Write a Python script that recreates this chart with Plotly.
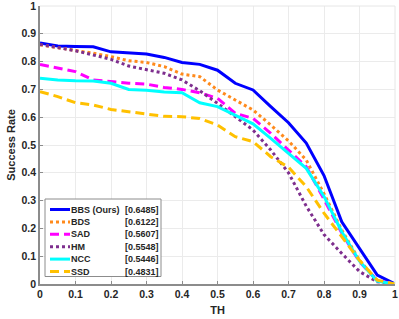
import plotly.graph_objects as go

th = [0, 0.05, 0.1, 0.15, 0.2, 0.25, 0.3, 0.35, 0.4, 0.45, 0.5,
      0.55, 0.6, 0.65, 0.7, 0.75, 0.8, 0.85, 0.9, 0.95, 1.0]

bbs = [0.867, 0.856, 0.854, 0.853, 0.835, 0.831, 0.827, 0.815, 0.797, 0.790, 0.769,
       0.722, 0.698, 0.638, 0.580, 0.507, 0.390, 0.224, 0.130, 0.032, 0.0]
bds = [0.860, 0.850, 0.842, 0.830, 0.818, 0.803, 0.797, 0.782, 0.755, 0.746, 0.698,
       0.662, 0.626, 0.572, 0.515, 0.446, 0.325, 0.194, 0.085, 0.012, 0.0]
sad = [0.790, 0.776, 0.764, 0.734, 0.728, 0.722, 0.719, 0.707, 0.700, 0.688, 0.668,
       0.614, 0.596, 0.542, 0.482, 0.422, 0.305, 0.183, 0.080, 0.012, 0.0]
hm = [0.862, 0.850, 0.839, 0.824, 0.808, 0.784, 0.770, 0.758, 0.734, 0.695, 0.650,
      0.602, 0.554, 0.482, 0.400, 0.280, 0.178, 0.110, 0.045, 0.008, 0.0]
ncc = [0.740, 0.734, 0.731, 0.730, 0.722, 0.700, 0.697, 0.691, 0.688, 0.652, 0.638,
       0.608, 0.576, 0.524, 0.470, 0.416, 0.315, 0.188, 0.082, 0.010, 0.0]
ssd = [0.692, 0.674, 0.652, 0.644, 0.628, 0.619, 0.612, 0.603, 0.602, 0.595, 0.572,
       0.530, 0.512, 0.458, 0.420, 0.350, 0.255, 0.172, 0.085, 0.014, 0.0]

names = ["BBS (Ours)", "BDS", "SAD", "HM", "NCC", "SSD"]
scores = ["[0.6485]", "[0.6122]", "[0.5607]", "[0.5548]", "[0.5446]", "[0.4831]"]
series = [bbs, bds, sad, hm, ncc, ssd]
colors = ["#0000FF", "#FF8A1C", "#FF00FF", "#7E2F8E", "#00FFFF", "#FFC000"]
dashes = ["solid", "3px,3px", "9px,5px", "3px,3px", "solid", "9px,5px"]

tickvals = [0, 0.1, 0.2, 0.3, 0.4, 0.5, 0.6, 0.7, 0.8, 0.9, 1]
ticktext = ["0", "0.1", "0.2", "0.3", "0.4", "0.5", "0.6", "0.7", "0.8", "0.9", "1"]

FONT = "Liberation Sans, Arial, sans-serif"

fig = go.Figure()
for name, ys, c, d in zip(names, series, colors, dashes):
    fig.add_trace(go.Scatter(x=th, y=ys, mode="lines", name=name,
                             line=dict(color=c, width=3, dash=d),
                             showlegend=False))

# custom legend box (paper coords)
W, H = 355.0, 278.0
def px_x(p):
    return (p - 40) / W
def px_y(p):
    return (284 - p) / H

shapes = [dict(type="rect", xref="paper", yref="paper",
               x0=px_x(45), x1=px_x(161), y0=px_y(276.5), y1=px_y(199),
               line=dict(color="#8c8c8c", width=1), fillcolor="white", layer="above")]
annotations = []
row0, step = 209.5, 12.4
for i, (name, sc, c, d) in enumerate(zip(names, scores, colors, dashes)):
    yy = px_y(row0 + i * step)
    shapes.append(dict(type="line", xref="paper", yref="paper",
                       x0=px_x(50), x1=px_x(70), y0=yy, y1=yy,
                       line=dict(color=c, width=3, dash=d), layer="above"))
    annotations.append(dict(xref="paper", yref="paper", x=px_x(71), y=yy,
                            text="<b>%s</b>" % name, showarrow=False,
                            xanchor="left", yanchor="middle", xshift=-2,
                            font=dict(family=FONT, size=9, color="#262626")))
    annotations.append(dict(xref="paper", yref="paper", x=px_x(159), y=yy,
                            text="<b>%s</b>" % sc, showarrow=False,
                            xanchor="right", yanchor="middle", xshift=2,
                            font=dict(family=FONT, size=9, color="#262626")))

fig.update_layout(
    width=399, height=319,
    margin=dict(l=40, r=4, t=6, b=35, autoexpand=False),
    paper_bgcolor="white", plot_bgcolor="white",
    font=dict(family=FONT, size=10, color="#262626"),
    shapes=shapes, annotations=annotations,
    xaxis=dict(range=[0, 1], tickvals=tickvals, ticktext=ticktext,
               automargin=False, ticklabeloverflow="allow",
               showgrid=True, gridcolor="#ebebeb", gridwidth=1,
               showline=True, linecolor="#8c8c8c", linewidth=1.5,
               ticks="inside", ticklen=3, tickcolor="#8c8c8c",
               zeroline=False, mirror=False,
               tickfont=dict(family=FONT, size=10.5, color="#262626", weight="bold"),
               title=dict(text="<b>TH</b>", standoff=7,
                          font=dict(family=FONT, size=11, color="#262626"))),
    yaxis=dict(range=[0, 1], tickvals=tickvals, ticktext=ticktext,
               automargin=False, ticklabeloverflow="allow",
               showgrid=True, gridcolor="#ebebeb", gridwidth=1,
               showline=True, linecolor="#8c8c8c", linewidth=1.5,
               ticks="inside", ticklen=3, tickcolor="#8c8c8c",
               zeroline=False, mirror=False,
               tickfont=dict(family=FONT, size=10.5, color="#262626", weight="bold"),
               title=dict(text="<b>Success Rate</b>", standoff=4,
                          font=dict(family=FONT, size=11, color="#262626"))),
)
# light frame on top/right
fig.add_shape(type="line", xref="paper", yref="paper", x0=0, x1=1, y0=1, y1=1,
              line=dict(color="#e6e6e6", width=1))
fig.add_shape(type="line", xref="paper", yref="paper", x0=1, x1=1, y0=0, y1=1,
              line=dict(color="#e6e6e6", width=1))

fig.write_html("out.html", config={"displayModeBar": False},
               post_script="document.body.style.margin='0';")
